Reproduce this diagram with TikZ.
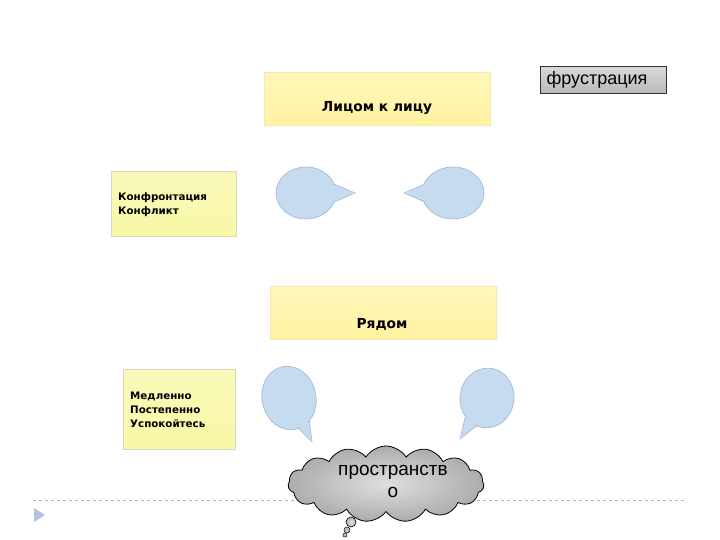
\documentclass[tikz,border=0pt]{standalone}
\usepackage{fontspec}
\setmainfont{Liberation Sans}
\newfontfamily\djv{DejaVu Sans}
\usetikzlibrary{shapes.symbols,shapes.geometric}
\definecolor{boxyel}{HTML}{FFF3A0}
\definecolor{boxyelb}{HTML}{F4E8B0}
\definecolor{sideyel}{HTML}{F8F8A8}
\definecolor{balfill}{HTML}{C6DAF0}
\definecolor{baledge}{HTML}{9DB6D6}
\tikzset{
  topbox/.style={draw=boxyelb, line width=0.6pt, top color=boxyel!70, bottom color=boxyel, minimum width=226pt, minimum height=53pt, anchor=north west, inner sep=0pt},
  boxtxt/.style={font=\djv\fontsize{13.8}{16}\selectfont\bfseries, inner sep=0pt},
  sidebox/.style={draw=boxyelb!80!black!60, line width=0.6pt, top color=sideyel!80!white, bottom color=sideyel, anchor=north west, inner sep=0pt},
  sidetxt/.style={font=\djv\fontsize{10.3}{14}\selectfont\bfseries, align=left, anchor=north west, inner sep=0pt},
  bal/.style={draw=baledge, fill=balfill, line width=0.6pt},
}
\begin{document}
\begin{tikzpicture}[x=1pt,y=-1pt]
\useasboundingbox (0,0) rectangle (720,540);
% frustration box
\node[draw=black!80, line width=0.8pt, top color=gray!30, bottom color=gray!55, minimum width=126pt, minimum height=27pt, anchor=north west, inner sep=0pt] (fr) at (540,66) {};
\node[font=\fontsize{18}{20}\selectfont, inner sep=0pt] (frt) at (597,79.5) {фрустрация};
% top box
\node[topbox] (b1) at (264,72) {};
\node[boxtxt] (b1t) at (377,108) {Лицом к лицу};
% side box 1
\node[sidebox, minimum width=125pt, minimum height=65pt] (s1) at (111,171) {};
\node[sidetxt] (s1t) at (118,192) {Конфронтация\\Конфликт};
% balloons row 1
\node[bal, ellipse, minimum width=60pt, minimum height=52pt, inner sep=0pt] (e1) at (306,193) {};
\coordinate (t1) at (355,193);
\draw[bal] (334,184) -- (t1) -- (334,202);
\fill[balfill] (333,185) -- (t1) -- (333,201) -- cycle;
\node[bal, ellipse, minimum width=62pt, minimum height=52pt, inner sep=0pt] (e2) at (453,193) {};
\coordinate (t2) at (404,193);
\draw[bal] (425,184) -- (t2) -- (425,202);
\fill[balfill] (426,185) -- (t2) -- (426,201) -- cycle;
% second top box
\node[topbox] (b2) at (270,286) {};
\node[boxtxt] (b2t) at (382,324) {Рядом};
% side box 2
\node[sidebox, minimum width=112pt, minimum height=80pt] (s2) at (123,369) {};
\node[sidetxt] (s2t) at (130,391.5) {Медленно\\Постепенно\\Успокойтесь};
% balloons row 2
\coordinate (t3) at (312,442);
\draw[bal] (294,424) -- (t3) -- (309,418);
\node[bal, ellipse, minimum width=54pt, minimum height=64pt, inner sep=0pt, rotate=12] (e3) at (289,398) {};
\fill[balfill] (296,422) -- (t3) -- (307,418) -- cycle;
\coordinate (t4) at (460,439);
\draw[bal] (465,418) -- (t4) -- (479,424);
\node[bal, ellipse, minimum width=54pt, minimum height=60pt, inner sep=0pt, rotate=-8] (e4) at (487,398) {};
\fill[balfill] (467,419) -- (t4) -- (477,424) -- cycle;
% dashed line and marker
\coordinate (dl) at (33,500);
\coordinate (dr) at (686,500);
\draw[gray!60, dashed, line width=0.6pt] (dl) -- (dr);
\fill[baledge!80] (34,508) -- (45,515) -- (34,522) -- cycle;
% cloud
\node[cloud, cloud puffs=15, cloud puff arc=115, aspect=2.6, draw=black, line width=0.8pt, inner color=gray!25, outer color=gray!65, minimum width=196pt, minimum height=76pt] (cl) at (386,484) {};
\node[font=\fontsize{19}{22}\selectfont, align=center, inner sep=0pt] (clt) at (393,481) {пространств\\о};
\node[draw=black, line width=0.6pt, ellipse, minimum width=10pt, minimum height=10pt, inner sep=0pt, inner color=gray!25, outer color=gray!60] (c1) at (351,522) {};
\node[draw=black, line width=0.5pt, ellipse, minimum width=6pt, minimum height=6pt, inner sep=0pt, fill=gray!50] (c2) at (347,530) {};
\node[draw=black, line width=0.5pt, ellipse, minimum width=4pt, minimum height=4pt, inner sep=0pt, fill=gray!50] (c3) at (345,535) {};
\end{tikzpicture}
\end{document}
